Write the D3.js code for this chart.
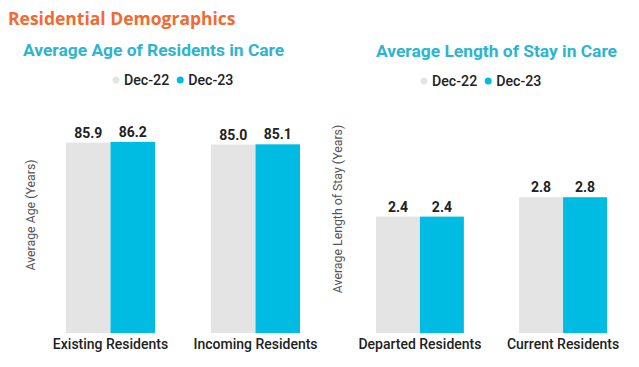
<!DOCTYPE html>
<html>
<head>
<meta charset="utf-8">
<script src="https://cdn.jsdelivr.net/npm/d3@7"></script>
<style>
  body { margin: 0; background: #fff; }
  text { font-family: Roboto, "Open Sans", sans-serif; }
</style>
</head>
<body>
<div id="chart"></div>
<script>
// === DATA ===
const seriesNames = ["Dec-22", "Dec-23"];
const ageCategories = ["Existing Residents", "Incoming Residents"];
const ageDec22 = [85.9, 85.0];
const ageDec23 = [86.2, 85.1];
const stayCategories = ["Departed Residents", "Current Residents"];
const stayDec22 = [2.4, 2.8];
const stayDec23 = [2.4, 2.8];

const W = 639, H = 367;
const colors = ["#e4e4e4", "#00bbe2"];

const svg = d3.select("#chart").append("svg")
  .attr("width", W).attr("height", H);

// page title
svg.append("text")
  .attr("x", 8).attr("y", 25)
  .style("font-family", "'Open Sans', sans-serif")
  .style("font-weight", 700)
  .style("font-size", "17.5px")
  .attr("fill", "#f26a31")
  .text("Residential Demographics");

function drawChart(opts) {
  const { left, right, title, titleX, legendX, legendY, yLabel, yLabelX, yLabelY,
          cats, s1, s2, yMax } = opts;
  const top = 139, bottom = 333;

  svg.append("text")
    .attr("x", titleX).attr("y", opts.titleY)
    .style("font-weight", 700).style("font-size", "17.4px")
    .attr("fill", "#2db4d0")
    .text(title);

  // legend
  const lg = svg.append("g").attr("transform", `translate(${legendX},${legendY})`);
  let off = 0;
  seriesNames.forEach((s, i) => {
    lg.append("circle").attr("cx", off).attr("cy", -5).attr("r", 3.5).attr("fill", colors[i]);
    const t = lg.append("text").attr("x", off + 8).attr("y", 0)
      .style("font-weight", 500).style("font-size", "14.2px").attr("fill", "#222")
      .text(s);
    off += 8 + t.node().getComputedTextLength() + 11;
  });

  // two groups, bars touching inside a group
  const x = d3.scaleBand().domain(cats).range([left, right]).paddingInner(0.386).paddingOuter(0);
  const xSub = d3.scaleBand().domain([0, 1]).range([0, x.bandwidth()]);
  const y = d3.scaleLinear().domain([0, yMax]).range([bottom, top]);

  const rows = cats.map((c, i) => ({ c, vals: [s1[i], s2[i]] }));
  const g = svg.append("g");
  const grp = g.selectAll("g").data(rows).join("g")
    .attr("transform", d => `translate(${x(d.c)},0)`);
  grp.selectAll("rect").data(d => d.vals.map((v, k) => ({ v, k })))
    .join("rect")
      .attr("x", d => xSub(d.k))
      .attr("y", d => y(d.v))
      .attr("width", xSub.bandwidth())
      .attr("height", d => y(0) - y(d.v))
      .attr("fill", d => colors[d.k]);
  grp.selectAll("text.val").data(d => d.vals.map((v, k) => ({ v, k })))
    .join("text").attr("class", "val")
      .attr("x", d => xSub(d.k) + xSub.bandwidth() / 2)
      .attr("y", d => y(d.v) - 5)
      .attr("text-anchor", "middle")
      .style("font-weight", 700).style("font-size", "14px").attr("fill", "#222")
      .text(d => d.v.toFixed(1));

  // category axis labels
  svg.append("g")
    .attr("transform", `translate(0,${bottom})`)
    .call(d3.axisBottom(x).tickSize(0).tickPadding(6))
    .call(a => a.select(".domain").remove())
    .selectAll("text")
      .style("font-family", "Roboto, sans-serif")
      .style("font-weight", 500).style("font-size", "14px").attr("fill", "#222");

  svg.append("text")
    .attr("transform", `translate(${yLabelX},${yLabelY}) rotate(-90)`)
    .attr("text-anchor", "middle")
    .style("font-size", "12.3px").attr("fill", "#555")
    .text(yLabel);
}

drawChart({
  left: 66, right: 300, title: "Average Age of Residents in Care",
  titleX: 23, titleY: 56, legendX: 116, legendY: 85,
  yLabel: "Average Age (Years)", yLabelX: 35, yLabelY: 215,
  cats: ageCategories, s1: ageDec22, s2: ageDec23, yMax: 87.5
});

drawChart({
  left: 376, right: 607, title: "Average Length of Stay in Care",
  titleX: 376, titleY: 57, legendX: 424, legendY: 86,
  yLabel: "Average Length of Stay (Years)", yLabelX: 342, yLabelY: 209,
  cats: stayCategories, s1: stayDec22, s2: stayDec23, yMax: 4
});
</script>
</body>
</html>
